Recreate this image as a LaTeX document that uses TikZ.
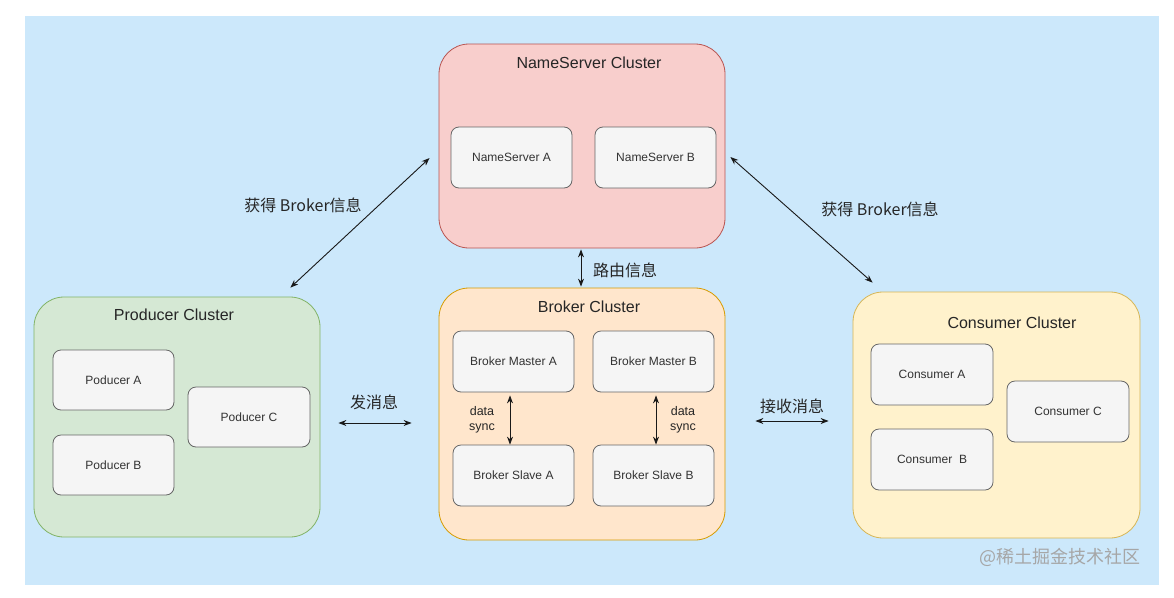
\documentclass[tikz,border=0pt]{standalone}
\usepackage{fontspec}
\setmainfont{Liberation Sans}
\newfontfamily\cjk{Noto Sans CJK SC}
\usetikzlibrary{arrows.meta,calc}
\definecolor{bgblue}{HTML}{CCE8FB}
\definecolor{nsfill}{HTML}{F8CECC}\definecolor{nsline}{HTML}{B85450}
\definecolor{brfill}{HTML}{FFE6CC}\definecolor{brline}{HTML}{D79B00}
\definecolor{prfill}{HTML}{D5E8D4}\definecolor{prline}{HTML}{82B366}
\definecolor{cofill}{HTML}{FFF2CC}\definecolor{coline}{HTML}{D6B656}
\definecolor{boxfill}{HTML}{F5F5F5}\definecolor{boxline}{HTML}{666666}
\definecolor{boxtext}{HTML}{333333}
\definecolor{wmark}{HTML}{A6A6A6}
\tikzset{
  cluster/.style={draw, line width=0.8pt, rounded corners=30pt, inner sep=0pt},
  inbox/.style={draw=boxline, fill=boxfill, line width=0.8pt, rounded corners=8pt,
    minimum width=121pt, minimum height=61pt, inner sep=0pt, text=boxtext, font=\fontsize{12}{14}\selectfont},
  ctitle/.style={font=\fontsize{16}{19}\selectfont, text=black!85},
  lbl/.style={font=\cjk\fontsize{16}{19}\selectfont, text=black!85},
  conn/.style={line width=0.9pt, draw=black!90, {Stealth[length=8pt,width=6pt]}-{Stealth[length=8pt,width=6pt]}},
}
\begin{document}
\begin{tikzpicture}[x=1pt,y=-1pt]
\useasboundingbox (0,0) rectangle (1174,597);
\fill[white] (0,0) rectangle (1174,597);
\fill[bgblue] (25,16) rectangle (1159,585);

% clusters
\node[cluster, draw=nsline, fill=nsfill, minimum width=286pt, minimum height=204pt] (nsc) at (582,146) {};
\node[cluster, draw=brline, fill=brfill, minimum width=286pt, minimum height=252pt] (brc) at (582,414) {};
\node[cluster, draw=prline, fill=prfill, minimum width=286pt, minimum height=240pt] (prc) at (177,417) {};
\node[cluster, draw=coline, fill=cofill, minimum width=287pt, minimum height=246pt] (coc) at (996.5,415) {};

\node[ctitle] (nst) at (589,63) {NameServer Cluster};
\node[ctitle] (brt) at (589,307) {Broker Cluster};
\node[ctitle] (prt) at (174,315) {Producer Cluster};
\node[ctitle] (cot) at (1012,323) {Consumer Cluster};

% inner boxes
\node[inbox] (nsa) at (511.5,157.5) {NameServer A};
\node[inbox] (nsb) at (655.5,157.5) {NameServer B};
\node[inbox] (bma) at (513.5,361.5) {Broker Master A};
\node[inbox] (bmb) at (653.5,361.5) {Broker Master B};
\node[inbox] (bsa) at (513.5,475.5) {Broker Slave A};
\node[inbox] (bsb) at (653.5,475.5) {Broker Slave B};
\node[inbox, minimum height=60pt] (pa) at (113.5,380) {Poducer A};
\node[inbox, minimum height=60pt] (pb) at (113.5,465) {Poducer B};
\node[inbox, minimum width=122pt, minimum height=60pt] (pc) at (249,417) {Poducer C};
\node[inbox, minimum width=122pt] (ca) at (932,374.5) {Consumer A};
\node[inbox, minimum width=122pt] (cb) at (932,459.5) {Consumer\ \ B};
\node[inbox, minimum width=122pt] (cc) at (1068,411.5) {Consumer C};

% connector end coordinates
\coordinate (l1) at ($(nsc.west)+(-9,12)$);
\coordinate (l2) at ($(prc.north east)+(-30,-9)$);
\coordinate (r1) at ($(nsc.east)+(5,11)$);
\coordinate (r2) at ($(coc.north west)+(20,-9)$);
\coordinate (p1) at ($(prc.east)+(18,6)$);
\coordinate (p2) at ($(brc.west)+(-27,9)$);
\coordinate (c1) at ($(brc.east)+(30,7)$);
\coordinate (c2) at ($(coc.west)+(-24,6)$);

\draw[conn] (l1) -- (l2);
\draw[conn] (r1) -- (r2);
\draw[conn] ([yshift=-1pt]nsc.south -| 581,0) -- ([yshift=1pt]brc.north -| 581,0);
\draw[conn] (p1) -- (p2);
\draw[conn] (c1) -- (c2);
\draw[conn] ([yshift=-3pt]bma.south -| 510,0) -- (bsa.north -| 510,0);
\draw[conn] ([yshift=-3pt]bmb.south -| 656,0) -- (bsb.north -| 656,0);

% labels
\node[lbl] (lab1) at (303,205) {获得 Broker信息};
\node[lbl] (lab2) at (880,209) {获得 Broker信息};
\node[lbl] (lab3) at (625,270) {路由信息};
\node[lbl] (lab4) at (374,402) {发消息};
\node[lbl] (lab5) at (792,406) {接收消息};
\node[font=\fontsize{12.5}{14.5}\selectfont, text=black!85, align=center] (ds1) at (482,420) {data\\sync};
\node[font=\fontsize{12.5}{14.5}\selectfont, text=black!85, align=center] (ds2) at (683,420) {data\\sync};

\node[font=\cjk\fontsize{18}{21}\selectfont, text=wmark] (wm) at (1060,557) {@稀土掘金技术社区};
\end{tikzpicture}
\end{document}
